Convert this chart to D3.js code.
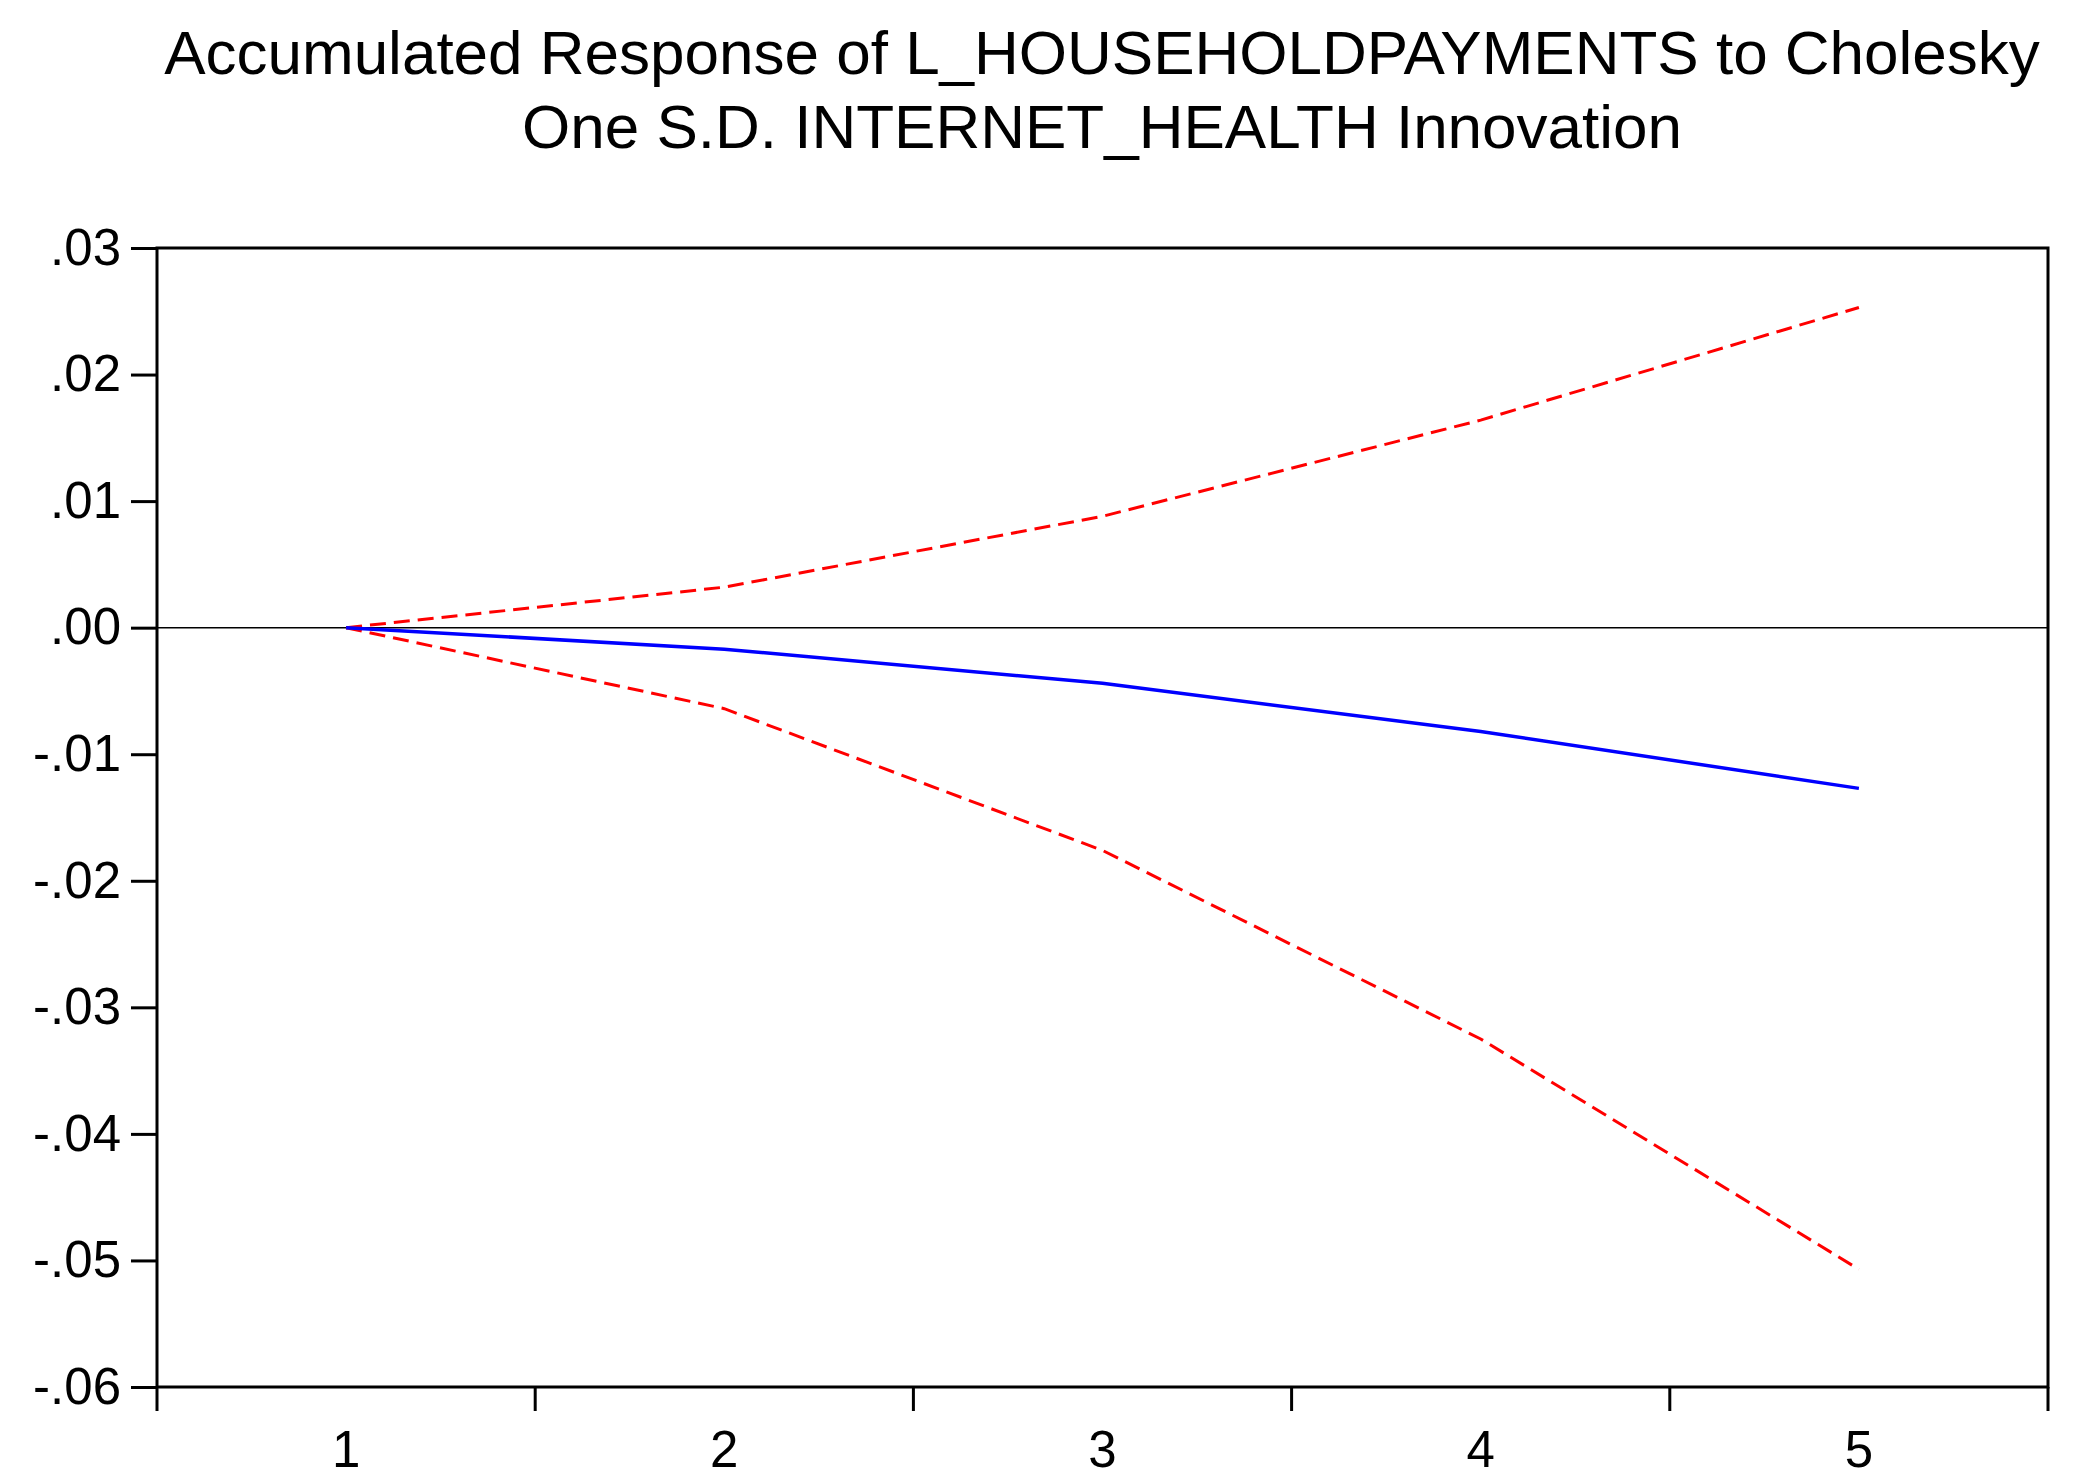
<!DOCTYPE html>
<html><head><meta charset="utf-8">
<script src="https://cdn.jsdelivr.net/npm/d3@7"></script>
<style>body{margin:0;background:#fff}svg{display:block}</style>
</head><body>
<div class="chart"></div>
<script>
const periods = [1, 2, 3, 4, 5];
const response = [0, -0.0017, -0.0044, -0.0082, -0.0127];
const upper = [0, 0.0032, 0.0088, 0.0164, 0.0253];
const lower = [0, -0.0064, -0.0176, -0.0325, -0.0507];
const yTicks = [0.03, 0.02, 0.01, 0, -0.01, -0.02, -0.03, -0.04, -0.05, -0.06];

const W = 2075, H = 1484;
const m = {left: 157, right: 27, top: 248, bottom: 97};

const svg = d3.select(".chart").append("svg").attr("width", W).attr("height", H);

const x = d3.scaleBand().domain(periods).range([m.left, W - m.right]);
const y = d3.scaleLinear().domain([-0.06, 0.03]).range([H - m.bottom, m.top]);
const fmt = d => d === 0 ? ".00" : (d < 0 ? "-" : "") + d3.format(".2f")(Math.abs(d)).replace("0.", ".");

svg.append("g").attr("transform", `translate(${m.left},0)`)
  .call(d3.axisLeft(y).tickValues(yTicks).tickFormat(fmt).tickSize(26).tickPadding(10))
  .call(g => g.select(".domain").remove())
  .call(g => g.selectAll("line").attr("stroke-width", 3))
  .call(g => g.selectAll("text").attr("font-size", 51).attr("font-family", "Liberation Sans").attr("fill", "#000"));

// x ticks at band boundaries
const bounds = periods.map(p => x(p)).concat([x(5) + x.bandwidth()]);
svg.append("g").selectAll("line").data(bounds).join("line")
  .attr("x1", d => d).attr("x2", d => d)
  .attr("y1", H - m.bottom).attr("y2", H - m.bottom + 24)
  .attr("stroke", "#000").attr("stroke-width", 3);
svg.append("g").selectAll("text").data(periods).join("text")
  .attr("x", d => x(d) + x.bandwidth() / 2).attr("y", H - m.bottom + 80)
  .attr("text-anchor", "middle").attr("font-size", 51).attr("font-family", "Liberation Sans")
  .text(d => d);

svg.append("rect").attr("x", m.left).attr("y", m.top)
  .attr("width", W - m.left - m.right).attr("height", H - m.top - m.bottom)
  .attr("fill", "none").attr("stroke", "#000").attr("stroke-width", 3);

svg.append("line").attr("x1", m.left).attr("x2", W - m.right)
  .attr("y1", y(0)).attr("y2", y(0)).attr("stroke", "#000").attr("stroke-width", 1.5);

const line = d3.line().x((d, i) => x(periods[i]) + x.bandwidth() / 2).y(d => y(d));
svg.append("path").attr("d", line(upper)).attr("fill", "none").attr("stroke", "#ff0000")
  .attr("stroke-width", 3).attr("stroke-dasharray", "16,8");
svg.append("path").attr("d", line(lower)).attr("fill", "none").attr("stroke", "#ff0000")
  .attr("stroke-width", 3).attr("stroke-dasharray", "16,8");
svg.append("path").attr("d", line(response)).attr("fill", "none").attr("stroke", "#0000ff")
  .attr("stroke-width", 3.5);

const title = svg.append("text").attr("text-anchor", "middle")
  .attr("font-size", 62).attr("font-family", "Liberation Sans");
title.append("tspan").attr("x", 1102).attr("y", 74).text("Accumulated Response of L_HOUSEHOLDPAYMENTS to Cholesky");
title.append("tspan").attr("x", 1102).attr("y", 148).text("One S.D. INTERNET_HEALTH Innovation");
</script>
</body></html>
